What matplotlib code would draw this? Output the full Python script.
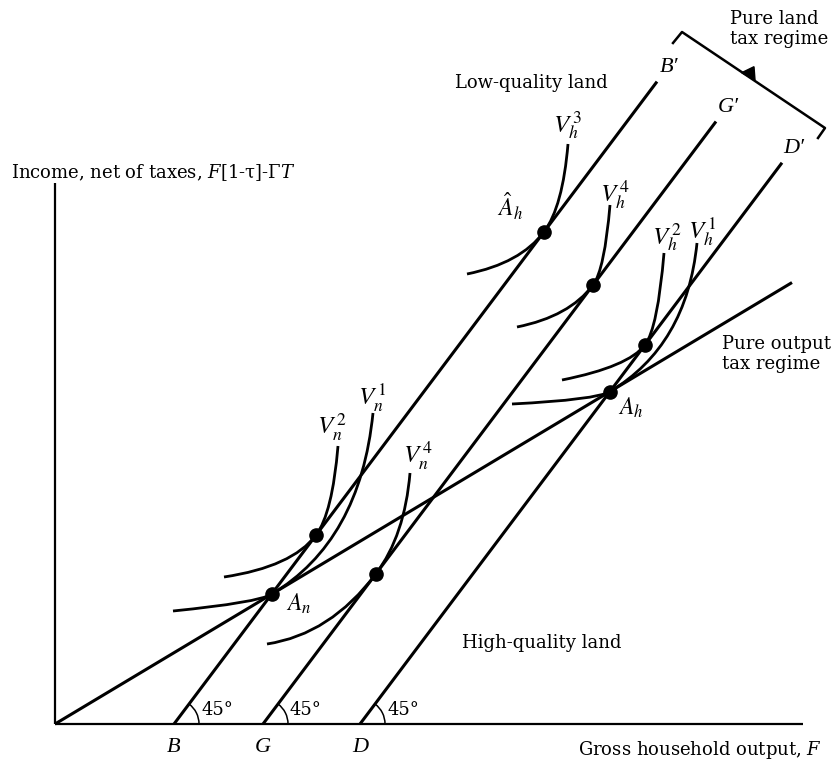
import numpy as np
import matplotlib
matplotlib.use("Agg")
import matplotlib.pyplot as plt
from matplotlib.path import Path
from matplotlib.patches import PathPatch, Arc, Polygon

plt.rcParams['font.family'] = ['DejaVu Serif', 'Liberation Serif']
plt.rcParams['mathtext.fontset'] = 'stix'

# ---------------- data ----------------
slope_land = 1.33            # slope of the "45 degree" land-tax lines
slope_output = 0.599         # slope of the pure output tax line
output_end_x = 737
land_names = ['B', 'G', 'D']
land_intercepts = [119, 208, 305]     # B, G, D on the horizontal axis
land_top_x = [602, 661, 727]          # B', G', D'
yaxis_top = 541
xaxis_end = 748

# indifference curves: name, tangent line, x of tangency, left end, top end, end slopes
curve_names = ['V_n^2', 'V_n^1', 'V_n^4', 'V_h^3', 'V_h^4', 'V_h^2', 'V_h^1']
curve_tangent_line = [0, 'out_B', 1, 0, 1, 2, 'out_D']
curve_tangent_x = [261, None, 321, 489, 538, 590, None]
curve_left = [(169, 147), (118, 113), (212, 80), (412, 450), (462, 397), (507, 344), (457, 320)]
curve_top = [(283, 278), (318, 311), (355, 251), (513, 580), (555, 519), (609, 471), (642, 481)]
curve_left_slope = [0.15, 0.1, 0.15, 0.2, 0.2, 0.2, 0.05]
curve_top_slope = [12, 10, 12, 12, 12, 12, 10]

LW_LINE = 2.2
LW_CURVE = 2.0
COL = 'black'
FS = 13


def land_y(i, x):
    return slope_land * (x - land_intercepts[i])


def intersect(p, m1, q, m2):
    x = (q[1] - p[1] + m1 * p[0] - m2 * q[0]) / (m1 - m2)
    return (x, p[1] + m1 * (x - p[0]))


fig = plt.figure(figsize=(8.31, 7.6), dpi=100)
ax = fig.add_axes([0, 0, 1, 1])
ax.set_xlim(-55, 776)
ax.set_ylim(-36, 724)
ax.axis('off')

# axes
ax.plot([0, 0], [0, yaxis_top], color=COL, lw=1.6, solid_capstyle='butt')
ax.plot([0, xaxis_end], [0, 0], color=COL, lw=1.6, solid_capstyle='butt')

# output tax line
ox = np.array([0, output_end_x])
ax.plot(ox, slope_output * ox, color=COL, lw=LW_LINE, solid_capstyle='butt')

# land lines
for i in range(3):
    xs = np.array([land_intercepts[i], land_top_x[i]])
    ax.plot(xs, land_y(i, xs), color=COL, lw=LW_LINE, solid_capstyle='butt')
    ang = np.degrees(np.arctan(slope_land))
    ax.add_patch(Arc((land_intercepts[i], 0), 50, 50, theta1=0, theta2=ang, color=COL, lw=1.1))
    ax.text(land_intercepts[i] + 27, 14, '45°', fontsize=FS, va='center', ha='left')
    ax.text(land_intercepts[i], -23, land_names[i], fontsize=16, va='center', ha='center',
            family='Liberation Serif', style='italic')
    ax.text(land_top_x[i] + 12, land_y(i, land_top_x[i]) + 14, land_names[i] + '\u2032',
            fontsize=16, va='center', ha='center', family='Liberation Serif', style='italic')

# indifference curves
dots = []
for k in range(len(curve_names)):
    t = curve_tangent_line[k]
    if isinstance(t, str):
        i = land_names.index(t[-1])
        xt = slope_land * land_intercepts[i] / (slope_land - slope_output)
        p1 = (xt, slope_output * xt)
        m1 = slope_output
    else:
        xt = curve_tangent_x[k]
        p1 = (xt, land_y(t, xt))
        m1 = slope_land
    p0 = curve_left[k]
    p2 = curve_top[k]
    c01 = intersect(p0, curve_left_slope[k], p1, m1)
    c12 = intersect(p1, m1, p2, curve_top_slope[k])
    verts = [p0, c01, p1, c12, p2]
    codes = [Path.MOVETO, Path.CURVE3, Path.CURVE3, Path.CURVE3, Path.CURVE3]
    ax.add_patch(PathPatch(Path(verts, codes), fill=False, color=COL, lw=LW_CURVE))
    dots.append(p1)

ax.plot([d[0] for d in dots], [d[1] for d in dots], 'o', color=COL, markersize=9.5, zorder=5)

# curve labels
label_pos = [(277, 297), (317, 327), (363, 269), (513, 599), (560, 529), (612, 487), (647, 492)]
for name, (lx, ly) in zip(curve_names, label_pos):
    base, sup = name.split('^')
    v, sub = base.split('_')
    ax.text(lx, ly, r'$%s_{%s}^{\,%s}$' % (v, sub, sup), fontsize=18, ha='center', va='center')

# point labels
ax.text(231, 120, r'$A_n$', fontsize=17, ha='left', va='center')
ax.text(455, 518, r'$\hat{A}_h$', fontsize=17, ha='center', va='center')
ax.text(576, 316, r'$A_h$', fontsize=17, ha='center', va='center')

# text labels
ax.text(-44, 551, r'Income, net of taxes, $F$[1-τ]-Γ$T$', fontsize=FS, ha='left', va='center',
        math_fontfamily='dejavuserif')
ax.text(767, -26, r'Gross household output, $F$', fontsize=FS, ha='right', va='center',
        math_fontfamily='dejavuserif')
ax.text(476, 641, 'Low-quality land', fontsize=FS, ha='center', va='center')
ax.text(407, 81, 'High-quality land', fontsize=FS, ha='left', va='center')
ax.text(667, 370, 'Pure output\ntax regime', fontsize=FS, ha='left', va='center', linespacing=1.15)
ax.text(675, 695, 'Pure land\ntax regime', fontsize=FS, ha='left', va='center', linespacing=1.1)

# bracket for pure land tax regime
bracket = [(618, 681), (627, 692), (770, 596), (763, 586)]
ax.plot([p[0] for p in bracket], [p[1] for p in bracket], color=COL, lw=1.8)
ax.add_patch(Polygon([(686.7, 651.3), (699, 657.3), (700, 644)], closed=True, color=COL))

fig.savefig('out.png', dpi=100)
